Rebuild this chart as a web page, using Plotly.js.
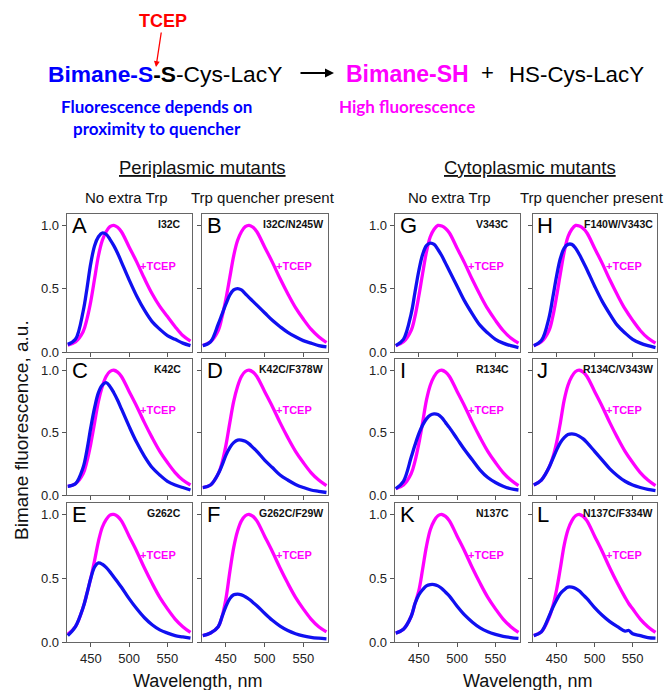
<!DOCTYPE html>
<html><head><meta charset="utf-8">
<script src="https://cdn.plot.ly/plotly-3.0.1.min.js"></script>
<style>body{margin:0;background:#fff}#chart{width:664px;height:690px}</style>
</head><body><div id="chart"></div>
<script>
// ---- data ----
const wavelength  = [420,430,440,445,450,455,460,465,470,475,480,485,490,500,510,520,530,540,550,560,570,580];
const wavelengthL = [420,430,440,445,450,455,460,465,470,475,480,485,490,500,510,520,530,540,545,550,560,570,580];

const panelLetters = ['A','B','C','D','E','F','G','H','I','J','K','L'];
const mutantNames  = ['I32C','I32C/N245W','K42C','K42C/F378W','G262C','G262C/F29W',
                      'V343C','F140W/V343C','R134C','R134C/V343W','N137C','N137C/F334W'];
const xTickVals = [450,500,550];
const yTickVals = [0,0.5,1];
const yTickText = ['0.0','0.5','1.0'];

// +TCEP (magenta) spectra
const tcepA = [0.055,0.08,0.16,0.26,0.40,0.58,0.76,0.88,0.95,0.99,1.0,0.985,0.95,0.83,0.71,0.58,0.46,0.36,0.28,0.20,0.13,0.085];
const tcepB = [0.05,0.08,0.17,0.28,0.42,0.59,0.76,0.88,0.95,0.99,1.0,0.985,0.95,0.83,0.71,0.58,0.46,0.35,0.26,0.18,0.12,0.075];
const tcepC = [0.07,0.09,0.17,0.27,0.41,0.58,0.75,0.87,0.95,0.99,1.0,0.985,0.95,0.83,0.71,0.58,0.46,0.35,0.26,0.18,0.12,0.08];
const tcepD = [0.06,0.08,0.17,0.26,0.40,0.58,0.75,0.87,0.95,0.99,1.0,0.985,0.95,0.83,0.71,0.58,0.46,0.35,0.26,0.18,0.12,0.075];
const tcepE = [0.06,0.12,0.27,0.38,0.50,0.64,0.79,0.90,0.96,0.995,1.0,0.985,0.95,0.83,0.71,0.58,0.46,0.35,0.26,0.18,0.12,0.075];
const tcepF = [0.05,0.07,0.12,0.20,0.34,0.55,0.74,0.87,0.95,0.99,1.0,0.985,0.95,0.83,0.71,0.58,0.46,0.35,0.26,0.18,0.12,0.08];
const tcepG = [0.05,0.08,0.17,0.28,0.44,0.62,0.79,0.91,0.97,1.0,0.995,0.975,0.94,0.82,0.70,0.57,0.45,0.34,0.25,0.17,0.11,0.07];
const tcepH = [0.05,0.08,0.17,0.28,0.44,0.62,0.79,0.91,0.97,1.0,0.995,0.975,0.94,0.82,0.70,0.57,0.45,0.34,0.25,0.17,0.11,0.07];
const tcepI = [0.05,0.08,0.17,0.27,0.41,0.58,0.76,0.88,0.95,0.99,1.0,0.985,0.95,0.83,0.71,0.58,0.46,0.35,0.26,0.18,0.12,0.075];
const tcepJ = [0.08,0.12,0.22,0.30,0.42,0.58,0.76,0.88,0.95,0.99,1.0,0.985,0.95,0.83,0.71,0.58,0.46,0.35,0.26,0.18,0.12,0.075];
const tcepK = [0.07,0.10,0.20,0.30,0.40,0.57,0.75,0.88,0.95,0.99,1.0,0.985,0.95,0.83,0.71,0.58,0.46,0.35,0.26,0.18,0.12,0.075];
const tcepL = [0.05,0.08,0.19,0.28,0.41,0.58,0.76,0.88,0.95,0.99,1.0,0.985,0.95,0.83,0.71,0.58,0.46,0.35,0.30,0.26,0.18,0.12,0.075];

// labelled (blue) spectra
const labA = [0.06,0.10,0.32,0.50,0.70,0.84,0.91,0.94,0.93,0.89,0.84,0.78,0.71,0.57,0.44,0.33,0.24,0.18,0.13,0.10,0.07,0.05];
const labB = [0.05,0.08,0.22,0.30,0.38,0.45,0.49,0.50,0.49,0.46,0.43,0.40,0.37,0.31,0.25,0.20,0.155,0.12,0.09,0.07,0.05,0.04];
const labC = [0.07,0.09,0.22,0.36,0.54,0.70,0.82,0.88,0.90,0.87,0.82,0.76,0.69,0.55,0.42,0.31,0.22,0.16,0.11,0.08,0.06,0.04];
const labD = [0.06,0.08,0.17,0.24,0.32,0.38,0.42,0.44,0.44,0.43,0.41,0.38,0.35,0.28,0.22,0.16,0.12,0.085,0.06,0.04,0.03,0.02];
const labE = [0.05,0.12,0.27,0.38,0.50,0.59,0.62,0.61,0.585,0.55,0.51,0.47,0.43,0.34,0.26,0.19,0.135,0.095,0.07,0.05,0.04,0.03];
const labF = [0.05,0.07,0.12,0.20,0.28,0.34,0.37,0.375,0.37,0.355,0.335,0.31,0.285,0.225,0.17,0.125,0.09,0.065,0.048,0.037,0.03,0.025];
const labG = [0.05,0.10,0.30,0.47,0.64,0.77,0.84,0.86,0.85,0.81,0.76,0.70,0.64,0.52,0.40,0.30,0.21,0.15,0.10,0.07,0.05,0.035];
const labH = [0.05,0.09,0.27,0.43,0.60,0.74,0.82,0.85,0.85,0.82,0.77,0.71,0.65,0.52,0.40,0.30,0.21,0.15,0.10,0.07,0.05,0.035];
const labI = [0.05,0.11,0.30,0.40,0.49,0.56,0.61,0.64,0.65,0.645,0.62,0.58,0.54,0.45,0.36,0.28,0.20,0.14,0.10,0.07,0.05,0.04];
const labJ = [0.08,0.12,0.22,0.29,0.36,0.42,0.46,0.485,0.49,0.485,0.47,0.45,0.42,0.35,0.28,0.21,0.155,0.11,0.08,0.06,0.045,0.035];
const labK = [0.07,0.10,0.20,0.30,0.37,0.41,0.44,0.45,0.45,0.44,0.42,0.39,0.36,0.28,0.21,0.155,0.11,0.08,0.06,0.045,0.035,0.028];
const labL = [0.05,0.08,0.20,0.27,0.33,0.38,0.41,0.43,0.43,0.42,0.40,0.37,0.34,0.27,0.21,0.16,0.12,0.085,0.09,0.065,0.05,0.035,0.03];

// ---- build ----
const W = 664, H = 690;
const colPx = {A:[67,192],B:[202,328],C:[67,192],D:[202,328],E:[67,192],F:[202,328],
               G:[395,520],H:[533,657],I:[395,520],J:[533,657],K:[395,520],L:[533,657]};
const rowPx = {A:[214,352],B:[214,352],G:[214,352],H:[214,352],
               C:[359,495],D:[359,495],I:[359,495],J:[359,495],
               E:[503,642],F:[503,642],K:[503,642],L:[503,642]};
const tcepSets = {A:tcepA,B:tcepB,C:tcepC,D:tcepD,E:tcepE,F:tcepF,G:tcepG,H:tcepH,I:tcepI,J:tcepJ,K:tcepK,L:tcepL};
const labSets  = {A:labA,B:labB,C:labC,D:labD,E:labE,F:labF,G:labG,H:labH,I:labI,J:labJ,K:labK,L:labL};
const showYLabels = {A:1,C:1,E:1,G:1,I:1,K:1};
const bottomRow = {E:1,F:1,K:1,L:1};

const FONT = 'Liberation Sans, Arial, sans-serif';
const MAG = '#ff00ff', BLUE = '#1010f0';
const traces = [], annotations = [];
const layout = {width:W, height:H, margin:{l:0,r:0,t:0,b:0}, paper_bgcolor:'#fff', plot_bgcolor:'#fff',
                showlegend:false, font:{family:FONT, color:'#222'}};

panelLetters.forEach((p, i) => {
  const n = i + 1;
  const xs = p === 'L' ? wavelengthL : wavelength;
  const xa = 'x' + n, ya = 'y' + n;
  traces.push({x: xs, y: tcepSets[p], xaxis: xa, yaxis: ya, mode:'lines',
               line:{color:MAG, width:3.3, shape:'spline', smoothing:1}, hoverinfo:'skip'});
  traces.push({x: xs, y: labSets[p], xaxis: xa, yaxis: ya, mode:'lines',
               line:{color:BLUE, width:3.3, shape:'spline', smoothing:1}, hoverinfo:'skip'});
  const [x0,x1] = colPx[p], [y0,y1] = rowPx[p];
  layout['xaxis' + n] = {domain:[x0/W, x1/W], anchor: ya, range:[419,582], tickvals:xTickVals,
    showticklabels: !!bottomRow[p], ticks:'outside', ticklen:4, tickcolor:'#555', showline:true, mirror:true,
    linecolor:'#666', linewidth:1.3, showgrid:false, zeroline:false, tickfont:{size:13, family:FONT, color:'#222'}};
  layout['yaxis' + n] = {domain:[1 - y1/H, 1 - y0/H], anchor: xa, range:[0,1.09], tickvals:yTickVals, ticktext:yTickText,
    showticklabels: !!showYLabels[p], ticks:'outside', ticklen:4, tickcolor:'#555', showline:true, mirror:true,
    linecolor:'#666', linewidth:1.3, showgrid:false, zeroline:false, tickfont:{size:13, family:FONT, color:'#222'}};
  annotations.push({xref: xa + ' domain', yref: ya + ' domain', x:0.02, y:1.02, xanchor:'left', yanchor:'top',
    text: p, showarrow:false, font:{size:22, family:FONT, color:'#000'}});
  const longName = mutantNames[i].length > 6;
  annotations.push({xref: xa + ' domain', yref: ya + ' domain', x: longName ? 0.98 : 0.93, y:0.985, xanchor:'right', yanchor:'top',
    text: '<b>' + mutantNames[i] + '</b>', showarrow:false, font:{size:10.5, family:FONT, color:'#111'}});
  annotations.push({xref: xa, yref: ya, x:538, y:0.68, xanchor:'center', text:'<b>+TCEP</b>', showarrow:false,
    font:{size:11, family:FONT, color:MAG}});
});

function pa(text, px, py, size, color, extra) {
  return Object.assign({xref:'paper', yref:'paper', x:px/W, y:1-py/H, xanchor:'center', yanchor:'middle',
    text:text, showarrow:false, font:{size:size, family:FONT, color:color}}, extra || {});
}
// header scheme
annotations.push(pa('<b>TCEP</b>', 156, 67, 18, '#ff0000', {showarrow:true, arrowcolor:'#ff0000', arrowwidth:1.3,
   arrowhead:2, arrowsize:0.9, ax:7, ay:-46}));
annotations.push(pa('<b><span style="color:#0000ff">Bimane-S</span>-S</b>-Cys-LacY', 46, 74, 22.8, '#000', {xanchor:'left'}));
annotations.push(pa('', 334, 73, 10, '#000', {showarrow:true, arrowcolor:'#000', arrowwidth:2, arrowhead:2,
   arrowsize:0.9, ax:-35, ay:0}));
annotations.push(pa('<b>Bimane-SH</b>', 344, 74, 23, '#ff00ff', {xanchor:'left'}));
annotations.push(pa('+', 487, 73, 22, '#000'));
annotations.push(pa('HS-Cys-LacY', 507, 74, 22.3, '#000', {xanchor:'left'}));
annotations.push(pa('<b>Fluorescence depends on<br>proximity to quencher</b>', 156, 117, 17, '#0000ff',
   {font:{size:17, family:'Lato, sans-serif', color:'#0000ff'}}));
annotations.push(pa('<b>High fluorescence</b>', 407, 106, 17, '#ff00ff',
   {font:{size:17, family:'Lato, sans-serif', color:'#ff00ff'}}));
// group headers
annotations.push(pa('<u>Periplasmic mutants</u>', 202, 167, 18.5, '#111'));
annotations.push(pa('<u>Cytoplasmic mutants</u>', 530, 167, 18.5, '#111'));
annotations.push(pa('No extra Trp', 126, 197, 15, '#111'));
annotations.push(pa('Trp quencher present', 263, 197, 15, '#111'));
annotations.push(pa('No extra Trp', 449, 197, 15, '#111'));
annotations.push(pa('Trp quencher present', 592, 197, 15, '#111'));
// axis titles
annotations.push(pa('Bimane fluorescence, a.u.', 21, 430, 19, '#111', {textangle:-90}));
annotations.push(pa('Wavelength, nm', 197, 681, 18, '#111'));
annotations.push(pa('Wavelength, nm', 527, 681, 18, '#111'));

layout.annotations = annotations;
Plotly.newPlot('chart', traces, layout, {staticPlot:true, displayModeBar:false});
</script>
</body></html>
